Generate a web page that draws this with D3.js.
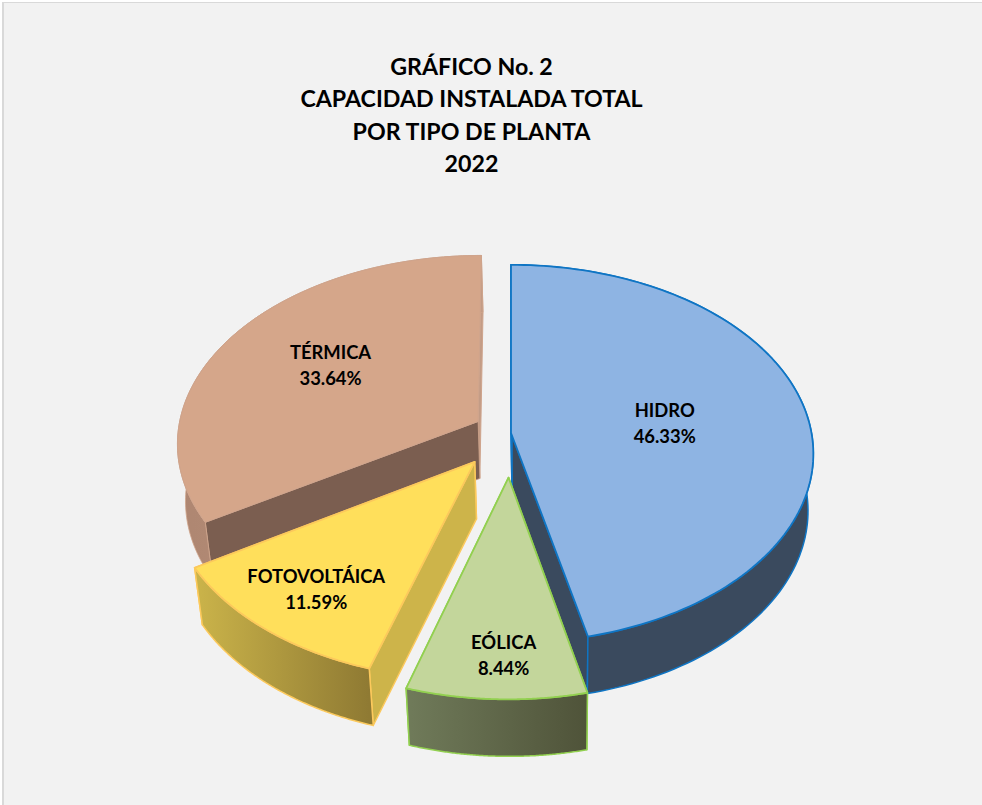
<!DOCTYPE html>
<html>
<head>
  <meta charset="utf-8">
  <title>Capacidad instalada total</title>
  <script src="https://d3js.org/d3.v7.min.js"></script>
  <style>
    html, body { margin: 0; padding: 0; background: #fff; }
    svg { display: block; }
    text { font-family: Lato, "Liberation Sans", sans-serif; font-weight: 700; fill: #000; }
  </style>
</head>
<body>
<svg id="chart"></svg>
<script>
  const titleLines = ["GRÁFICO No. 2", "CAPACIDAD INSTALADA TOTAL", "POR TIPO DE PLANTA", "2022"];

  const categories = ["HIDRO", "EÓLICA", "FOTOVOLTÁICA", "TÉRMICA"];
  const shares = [46.33, 8.44, 11.59, 33.64];

  // look of each slice, same order as the categories
  const topColors = ["#8eb4e3", "#c3d69b", "#ffdf5b", "#d5a68a"];
  const edgeColors = ["#0f75c4", "#92d050", "#fcc95c", "#cfa48c"];
  const wallColors = ["#3a4a5e", "#4f5339", "#cdb44a", "#7b5e50"];
  const sideFrom = ["#3a4a5e", "#707b5a", "#cbb44a", "#ae8671"];
  const sideTo = ["#3a4a5e", "#4f5339", "#8f7a33", "#c39c86"];
  const explode = [0, 70, 58, 38];
  const labelAt = [0.515, 0.82, 0.78, 0.59];
  const labelDx = [1, 5, 2, 0];
  const labelDy = [2, 1, 1, -4];
  const drawOrder = [3, 0, 2, 1];

  const width = 982, height = 805;
  const cx = 511, cy = 433;      // where the pie centre lands
  const R = 300.5, tilt = 186.4 / 300, persp = 0.11 / 300;
  const depth = 57, vanishX = 560, shrink = 0.021;

  const svg = d3.select("#chart").attr("width", width).attr("height", height);

  svg.append("rect").attr("width", width).attr("height", height).attr("fill", "#fff");
  svg.append("rect").attr("x", 2).attr("y", 2).attr("width", width - 2).attr("height", height - 2).attr("fill", "#d9d9d9");
  svg.append("rect").attr("x", 4).attr("y", 3).attr("width", width - 4).attr("height", height - 3).attr("fill", "#f2f2f2");

  const defs = svg.append("defs");

  // plane point -> screen, things closer to the viewer get bigger
  function project(X, Y) {
    const w = 1 / (1 - persp * Y);
    return [cx + X * w, cy + Y * tilt * w];
  }
  function lower(p) {
    return [p[0] + (vanishX - p[0]) * shrink, p[1] + depth];
  }

  const arcs = d3.pie().sort(null).value(d => d)(shares);
  const line = d3.line();

  const slices = arcs.map((a, i) => {
    const mid = (a.startAngle + a.endAngle) / 2;
    const ox = Math.sin(mid) * explode[i], oy = -Math.cos(mid) * explode[i];
    const at = (angle, r) => project(ox + Math.sin(angle) * r, oy - Math.cos(angle) * r);
    const steps = d3.range(0, 121).map(k => a.startAngle + (a.endAngle - a.startAngle) * k / 120);
    return { i, a, mid, at, rim: steps.map(t => at(t, R)), apex: at(0, 0) };
  });

  drawOrder.forEach(i => {
    const s = slices[i];
    const g = svg.append("g");
    const rim = s.rim, rimLow = rim.map(lower);
    const apexLow = lower(s.apex);
    const first = rim[0], last = rim[rim.length - 1];

    const gradId = "side" + i;
    const grad = defs.append("linearGradient").attr("id", gradId)
      .attr("gradientUnits", "userSpaceOnUse")
      .attr("x1", d3.min(rim, d => d[0])).attr("x2", d3.max(rim, d => d[0]))
      .attr("y1", 0).attr("y2", 0);
    grad.append("stop").attr("offset", 0).attr("stop-color", sideFrom[i]);
    grad.append("stop").attr("offset", 1).attr("stop-color", sideTo[i]);

    // the two cut walls
    g.append("path")
      .attr("d", line([s.apex, last, lower(last), apexLow]) + "Z")
      .attr("fill", i === 3 ? sideTo[i] : wallColors[i])
      .attr("stroke", edgeColors[i]).attr("stroke-width", i === 3 ? 1 : 1.5).attr("stroke-linejoin", "round");
    g.append("path")
      .attr("d", line([s.apex, first, lower(first), apexLow]) + "Z")
      .attr("fill", wallColors[i])
      .attr("stroke", edgeColors[i]).attr("stroke-width", i === 3 ? 0.8 : 1.5).attr("stroke-linejoin", "round");

    // outer side
    g.append("path")
      .attr("d", line(rim.concat(rimLow.slice().reverse())) + "Z")
      .attr("fill", "url(#" + gradId + ")")
      .attr("stroke", edgeColors[i]).attr("stroke-width", i === 3 ? 0.8 : 1.5).attr("stroke-linejoin", "round");

    // top face
    g.append("path")
      .attr("d", line([s.apex].concat(rim)) + "Z")
      .attr("fill", topColors[i])
      .attr("stroke", edgeColors[i]).attr("stroke-width", i === 3 ? 1 : 1.8).attr("stroke-linejoin", "round");
  });

  slices.forEach(s => {
    const p = s.at(s.mid, R * labelAt[s.i]);
    const x = p[0] + labelDx[s.i], y = p[1] + labelDy[s.i];
    const t = svg.append("text").attr("text-anchor", "middle").attr("font-size", 18.4);
    t.append("tspan").attr("x", x).attr("y", y - 7).text(categories[s.i]);
    t.append("tspan").attr("x", x).attr("y", y + 19).text(shares[s.i].toFixed(2) + "%");
  });

  svg.append("text")
    .attr("text-anchor", "middle").attr("font-size", 23.2)
    .selectAll("tspan").data(titleLines).join("tspan")
    .attr("x", 471.5)
    .attr("y", (d, i) => 75 + i * 32.4)
    .text(d => d);
</script>
</body>
</html>
